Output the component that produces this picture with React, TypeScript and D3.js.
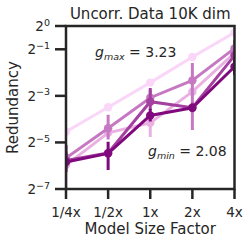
import { useEffect, useRef } from "react";
import * as d3 from "d3";

// model size factors (x axis)
const sizeLabels = ["1/4x", "1/2x", "1x", "2x", "4x"];
// y ticks, as log2 of redundancy
const yTickExps = [0, -1, -3, -5, -7];

// log2(redundancy) for each run, light -> dark
const seriesColors = ["#fad6f8", "#e9b1e2", "#c678c2", "#a4409f", "#800a7d"];
const meanS1 = [-4.54, -3.49, -2.43, -1.33, -0.28];
const meanS2 = [-5.97, -4.59, -4.16, -2.82, -1.16];
const meanS3 = [-5.67, -4.39, -3.08, -2.34, -0.96];
const meanS4 = [-5.78, -5.45, -3.25, -3.51, -1.27];
const meanS5 = [-5.84, -5.47, -3.84, -3.51, -1.75];

const loS1 = [-4.62, -3.57, -2.52, -1.42, -0.38];
const hiS1 = [-4.46, -3.41, -2.34, -1.24, -0.18];
const loS2 = [-7.5, -4.75, -4.77, -3.0, -1.35];
const hiS2 = [-5.5, -4.45, -3.7, -2.65, -0.95];
const loS3 = [-5.9, -4.87, -3.4, -4.47, -1.4];
const hiS3 = [-5.4, -3.81, -2.75, -1.59, -0.6];
const loS4 = [-6.1, -5.6, -3.6, -3.7, -1.5];
const hiS4 = [-5.45, -5.3, -2.66, -3.3, -1.05];
const loS5 = [-6.27, -6.18, -4.1, -3.65, -2.1];
const hiS5 = [-5.11, -4.97, -3.55, -3.35, -1.37];

const gMax = "3.23";
const gMin = "2.08";

const FONT = "DejaVu Sans, sans-serif";
const INK = "#262626";

export default function App() {
  const ref = useRef<SVGSVGElement | null>(null);

  useEffect(() => {
    if (!ref.current) return;
    const series = [
      { mean: meanS1, lo: loS1, hi: hiS1 },
      { mean: meanS2, lo: loS2, hi: hiS2 },
      { mean: meanS3, lo: loS3, hi: hiS3 },
      { mean: meanS4, lo: loS4, hi: hiS4 },
      { mean: meanS5, lo: loS5, hi: hiS5 },
    ];

    const left = 66, right = 234.5, top = 26, bottom = 189;

    const svg = d3.select(ref.current);
    svg.selectAll("*").remove();

    const x = d3.scalePoint<string>().domain(sizeLabels).range([left, right]);
    const y = d3.scaleLinear().domain([-7, 0]).range([bottom, top]);

    svg
      .append("defs")
      .append("clipPath")
      .attr("id", "plotclip")
      .append("rect")
      .attr("x", left)
      .attr("y", top - 1)
      .attr("width", right - left)
      .attr("height", bottom - top + 1);

    const plot = svg.append("g").attr("clip-path", "url(#plotclip)");

    const line = d3
      .line<number>()
      .x((_, i) => x(sizeLabels[i])!)
      .y((d) => y(d));

    series.forEach((s, k) => {
      const col = seriesColors[k];
      const g = plot.append("g");
      g.selectAll("line")
        .data(s.mean)
        .join("line")
        .attr("x1", (_, i) => x(sizeLabels[i])!)
        .attr("x2", (_, i) => x(sizeLabels[i])!)
        .attr("y1", (_, i) => y(s.lo[i]))
        .attr("y2", (_, i) => y(s.hi[i]))
        .attr("stroke", col)
        .attr("stroke-width", 3);
      g.append("path")
        .datum(s.mean)
        .attr("fill", "none")
        .attr("stroke", col)
        .attr("stroke-width", 3)
        .attr("d", line);
      g.selectAll("circle")
        .data(s.mean)
        .join("circle")
        .attr("cx", (_, i) => x(sizeLabels[i])!)
        .attr("cy", (d) => y(d))
        .attr("r", 4.2)
        .attr("fill", col);
    });

    // frame
    svg
      .append("rect")
      .attr("x", left)
      .attr("y", top)
      .attr("width", right - left)
      .attr("height", bottom - top)
      .attr("fill", "none")
      .attr("stroke", INK)
      .attr("stroke-width", 2.5);

    // x axis ticks
    const xa = svg.append("g");
    xa.selectAll("line")
      .data(sizeLabels)
      .join("line")
      .attr("x1", (d) => x(d)!)
      .attr("x2", (d) => x(d)!)
      .attr("y1", bottom)
      .attr("y2", bottom + 10)
      .attr("stroke", INK)
      .attr("stroke-width", 2.5);
    xa.selectAll("text")
      .data(sizeLabels)
      .join("text")
      .attr("x", (d) => x(d)!)
      .attr("y", 217)
      .attr("text-anchor", "middle")
      .attr("font-family", FONT)
      .attr("font-size", 13.5)
      .attr("fill", INK)
      .text((d) => d);

    // y axis ticks
    const ya = svg.append("g");
    ya.selectAll("line")
      .data(yTickExps)
      .join("line")
      .attr("x1", left - 11)
      .attr("x2", left)
      .attr("y1", (d) => y(d))
      .attr("y2", (d) => y(d))
      .attr("stroke", INK)
      .attr("stroke-width", 2.5);
    const yt = ya
      .selectAll("text")
      .data(yTickExps)
      .join("text")
      .attr("x", 50)
      .attr("y", (d) => y(d) + 5)
      .attr("text-anchor", "end")
      .attr("font-family", FONT)
      .attr("fill", INK);
    yt.append("tspan").attr("font-size", 13.5).text("2");
    yt.append("tspan")
      .attr("font-size", 9.5)
      .attr("dy", -5.5)
      .text((d) => (d < 0 ? "\u2212" + Math.abs(d) : String(d)));

    // title & axis labels
    svg
      .append("text")
      .attr("x", (left + right) / 2)
      .attr("y", 19)
      .attr("text-anchor", "middle")
      .attr("font-family", FONT)
      .attr("font-size", 15)
      .attr("fill", INK)
      .text("Uncorr. Data 10K dim");
    svg
      .append("text")
      .attr("x", (left + right) / 2)
      .attr("y", 234)
      .attr("text-anchor", "middle")
      .attr("font-family", FONT)
      .attr("font-size", 15)
      .attr("fill", INK)
      .text("Model Size Factor");
    svg
      .append("text")
      .attr("transform", `translate(18,${(top + bottom) / 2}) rotate(-90)`)
      .attr("text-anchor", "middle")
      .attr("font-family", FONT)
      .attr("font-size", 15)
      .attr("fill", INK)
      .text("Redundancy");

    // annotations
    const annot = (ax: number, ay: number, sub: string, val: string) => {
      const t = svg
        .append("text")
        .attr("x", ax)
        .attr("y", ay)
        .attr("font-family", FONT)
        .attr("fill", INK);
      t.append("tspan").attr("font-size", 14).attr("font-style", "italic").text("g");
      t.append("tspan")
        .attr("font-size", 9.5)
        .attr("font-style", "italic")
        .attr("dy", 3)
        .text(sub);
      t.append("tspan").attr("font-size", 14).attr("dy", -3).text(" = " + val);
    };
    annot(95, 57, "max", gMax);
    annot(148, 156, "min", gMin);
  }, []);

  return (
    <svg
      ref={ref}
      width={250}
      height={245}
      style={{ position: "absolute", left: 0, top: 0, background: "#fff" }}
    />
  );
}
